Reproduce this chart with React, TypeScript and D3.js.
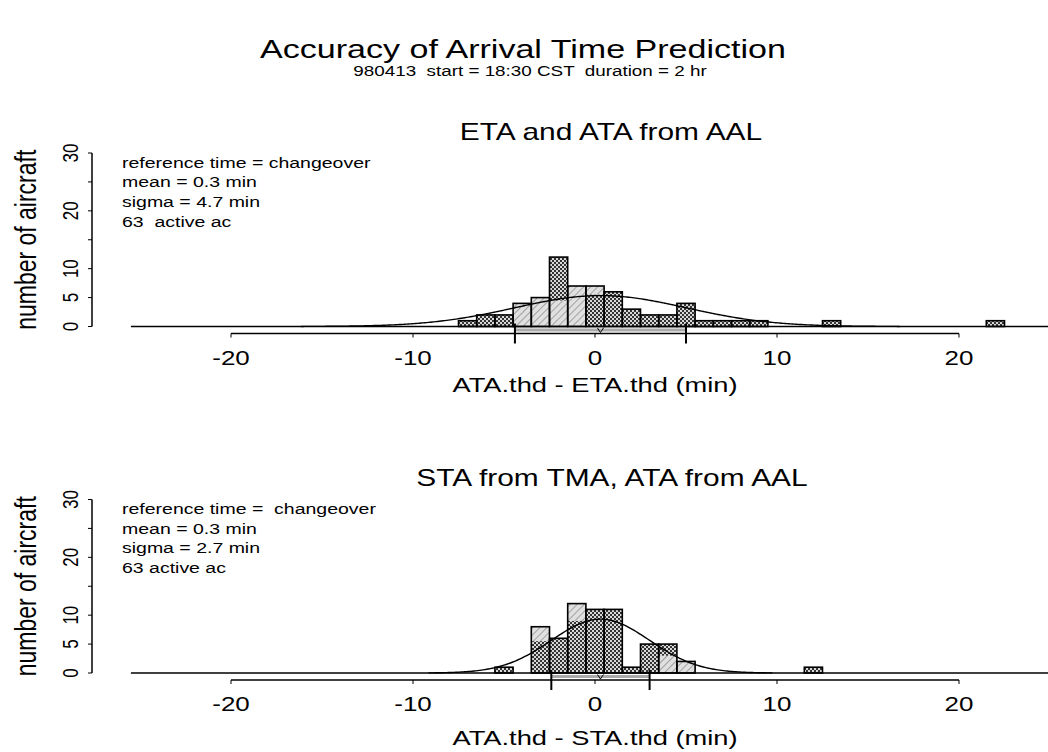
import React from 'react';
import * as d3 from 'd3';

// ---- data ----
const etaBins = [-7, -6, -5, -4, -3, -2, -1, 0, 1, 2, 3, 4, 5, 6, 7, 8, 9, 13, 22];
const etaCounts = [1, 2, 2, 4, 5, 12, 7, 7, 6, 3, 2, 2, 4, 1, 1, 1, 1, 1, 1];
const etaLightBins = [-4, -3, -2, -1, 0];
const etaLightLo = [0, 0, 0, 0, 5.5];
const etaLightHi = [4, 5, 4.5, 7, 7];

const staBins = [-5, -3, -2, -1, 0, 1, 2, 3, 4, 5, 12];
const staCounts = [1, 8, 6, 12, 11, 11, 1, 5, 5, 2, 1];
const staLightBins = [-3, -1, 4, 5];
const staLightLo = [5.5, 9, 0, 0];
const staLightHi = [8, 12, 3, 2];

const etaStats = { mean: 0.3, sigma: 4.7, n: 63 };
const staStats = { mean: 0.3, sigma: 2.7, n: 63 };

const etaLines = ['reference time = changeover', 'mean = 0.3 min', 'sigma = 4.7 min', '63  active ac'];
const staLines = ['reference time =  changeover', 'mean = 0.3 min', 'sigma = 2.7 min', '63 active ac'];

const xTicks = [-20, -10, 0, 10, 20];
const yTicks = [0, 5, 10, 15, 20, 25, 30];
const yTickLabels = [0, 5, 10, 20, 30];

const mainTitle = 'Accuracy of Arrival Time Prediction';
const subTitle = '980413  start = 18:30 CST  duration = 2 hr';

// ---- styling ----
const FONT = "'Liberation Sans', Arial, Helvetica, sans-serif";
const SX = 1.3;
const W = 1048;
const H = 752;

const x = d3.scaleLinear().domain([-20, 20]).range([231, 959]);

function SText(props: {
  x: number; y: number; size: number; sx?: number; anchor?: string; rotate?: boolean; children: React.ReactNode;
}) {
  const sx = props.sx ?? SX;
  return (
    <text
      transform={`translate(${props.x},${props.y}) scale(${sx},1)${props.rotate ? ' rotate(-90)' : ''}`}
      fontSize={props.size}
      fontFamily={FONT}
      textAnchor={props.anchor ?? 'start'}
      fill="#000"
      xmlSpace="preserve"
      style={{ whiteSpace: 'pre' }}
    >
      {props.children}
    </text>
  );
}

function Panel(props: {
  y0: number; bins: number[]; counts: number[]; lightBins: number[]; lightLo: number[]; lightHi: number[];
  stats: { mean: number; sigma: number; n: number }; title: string; titleX: number; xlabel: string;
  xlabelY: number; lines: string[]; id: string;
}) {
  const { y0, bins, counts, stats } = props;
  const y = d3.scaleLinear().domain([0, 30]).range([y0, y0 - 173.5]);
  const { mean, sigma, n } = stats;
  const dens = (v: number) => (n / (sigma * Math.sqrt(2 * Math.PI))) * Math.exp(-((v - mean) ** 2) / (2 * sigma * sigma));
  const pts = d3.range(mean - 3.5 * sigma, mean + 3.5 * sigma + 0.001, 0.1);
  const line = d3.line<number>().x((v) => x(v)).y((v) => y(dens(v)));
  const lo = x(mean - sigma);
  const hi = x(mean + sigma);
  const axisY = y0 + 7;
  return (
    <g>
      <SText x={props.titleX} y={y0 - 187} size={23} anchor="middle">{props.title}</SText>
      <line x1={92} x2={92} y1={y(0)} y2={y(30)} stroke="#000" strokeWidth={1.5} />
      {yTicks.map((t) => (
        <line key={t} x1={88} x2={92} y1={y(t)} y2={y(t)} stroke="#000" strokeWidth={1} />
      ))}
      {yTickLabels.map((t) => (
        <SText key={t} x={78} y={y(t)} size={17} anchor="middle" rotate>{String(t)}</SText>
      ))}
      <SText x={36} y={y(15)} size={23} anchor="middle" rotate>number of aircraft</SText>
      {props.lines.map((l, i) => (
        <SText key={i} x={122} y={y0 - 159 + i * 19.7} size={15} sx={1.3}>{l}</SText>
      ))}
      {bins.map((b, i) => (
        <rect key={'d' + i} x={x(b - 0.5)} y={y(counts[i])} width={x(b + 0.5) - x(b - 0.5)} height={y(0) - y(counts[i])}
          fill={`url(#dots-${props.id})`} />
      ))}
      {props.lightBins.map((b, i) => (
        <rect key={'l' + i} x={x(b - 0.5)} y={y(props.lightHi[i])} width={x(b + 0.5) - x(b - 0.5)}
          height={y(props.lightLo[i]) - y(props.lightHi[i])} fill={`url(#hatch-${props.id})`} />
      ))}
      {bins.map((b, i) => (
        <rect key={'o' + i} x={x(b - 0.5)} y={y(counts[i])} width={x(b + 0.5) - x(b - 0.5)} height={y(0) - y(counts[i])}
          fill="none" stroke="#000" strokeWidth={1.6} />
      ))}
      <path d={line(pts) ?? ''} fill="none" stroke="#000" strokeWidth={1.4} />
      <line x1={x(-25.5)} x2={W} y1={y0} y2={y0} stroke="#000" strokeWidth={1.6} />
      <line x1={lo} x2={hi} y1={y0 + 3.5} y2={y0 + 3.5} stroke="#aaa" strokeWidth={3} />
      <line x1={lo} x2={lo} y1={y0 - 3} y2={y0 + 17} stroke="#000" strokeWidth={2} />
      <line x1={hi} x2={hi} y1={y0 - 3} y2={y0 + 17} stroke="#000" strokeWidth={2} />
      <path d={`M${x(mean) - 3},${y0 + 1.5} L${x(mean)},${y0 + 6} L${x(mean) + 3},${y0 + 1.5}`} fill="none" stroke="#000" strokeWidth={1} />
      <line x1={x(-20)} x2={x(20)} y1={axisY} y2={axisY} stroke="#000" strokeWidth={1.4} />
      {xTicks.map((t) => (
        <line key={t} x1={x(t)} x2={x(t)} y1={axisY} y2={axisY + 4} stroke="#000" strokeWidth={1} />
      ))}
      {xTicks.map((t) => (
        <SText key={t} x={x(t)} y={y0 + 38} size={20} anchor="middle">{String(t)}</SText>
      ))}
      <SText x={595} y={props.xlabelY} size={21} anchor="middle">{props.xlabel}</SText>
    </g>
  );
}

function Patterns({ id }: { id: string }) {
  return (
    <>
      <pattern id={`dots-${id}`} patternUnits="userSpaceOnUse" width={4} height={4}>
        <rect width={4} height={4} fill="#d8d8d8" />
        <rect x={0} y={0} width={2} height={2} fill="#333" shapeRendering="crispEdges" />
        <rect x={2} y={2} width={2} height={2} fill="#333" shapeRendering="crispEdges" />
      </pattern>
      <pattern id={`hatch-${id}`} patternUnits="userSpaceOnUse" width={5} height={5} patternTransform="rotate(45)">
        <rect width={5} height={5} fill="#e0e0e0" />
        <line x1={0} y1={0} x2={0} y2={5} stroke="#777" strokeWidth={1.2} />
      </pattern>
    </>
  );
}

export default function App() {
  return (
    <svg width={W} height={H} viewBox={`0 0 ${W} ${H}`} style={{ position: 'absolute', left: 0, top: 0, background: '#fff' }}>
      <defs>
        <Patterns id="a" />
        <Patterns id="b" />
      </defs>
      <rect width={W} height={H} fill="#fff" />
      <SText x={523} y={58} size={26} sx={1.31} anchor="middle">{mainTitle}</SText>
      <SText x={530} y={76} size={14.5} anchor="middle">{subTitle}</SText>
      <Panel id="a" y0={326.5} bins={etaBins} counts={etaCounts} lightBins={etaLightBins} lightLo={etaLightLo}
        lightHi={etaLightHi} stats={etaStats} title="ETA and ATA from AAL" titleX={611}
        xlabel="ATA.thd - ETA.thd (min)" xlabelY={392} lines={etaLines} />
      <Panel id="b" y0={673} bins={staBins} counts={staCounts} lightBins={staLightBins} lightLo={staLightLo}
        lightHi={staLightHi} stats={staStats} title="STA from TMA, ATA from AAL" titleX={612}
        xlabel="ATA.thd - STA.thd (min)" xlabelY={745} lines={staLines} />
    </svg>
  );
}
